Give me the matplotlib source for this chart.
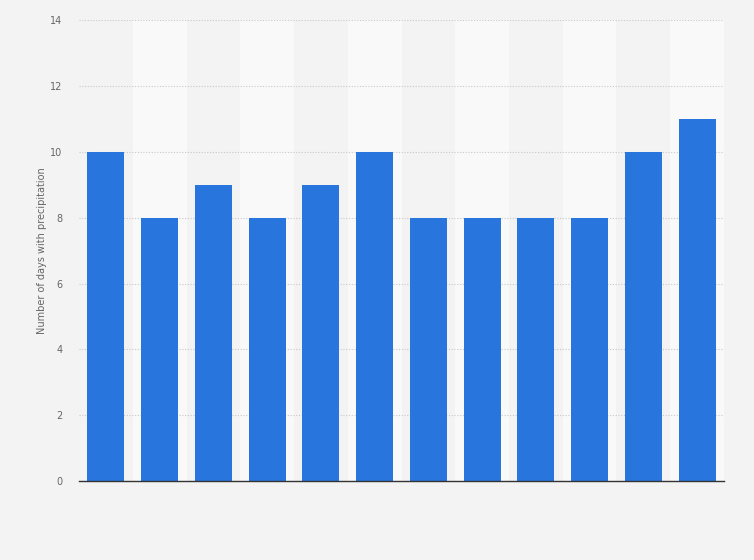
import matplotlib
matplotlib.use('Agg')
import matplotlib.pyplot as plt

months = ['Jan', 'Feb', 'Mar', 'Apr', 'May', 'Jun', 'Jul', 'Aug', 'Sep', 'Oct', 'Nov', 'Dec']
days = [10, 8, 9, 8, 9, 10, 8, 8, 8, 8, 10, 11]
yticks = [0, 2, 4, 6, 8, 10, 12, 14]

bg = '#f3f3f3'
fig = plt.figure(figsize=(7.54, 5.6), dpi=100, facecolor=bg)
ax = fig.add_axes([0.1048, 0.141, 0.8554, 0.823], facecolor=bg)

x = list(range(len(months)))
for i in x:
    if i % 2 == 1:
        ax.axvspan(i - 0.5, i + 0.5, color='#f9f9f9', zorder=0, lw=0)

ax.bar(x, days, width=0.69, color='#2876dd', zorder=3)

ax.set_xlim(-0.5, len(months) - 0.5)
ax.set_ylim(0, 14)
ax.set_yticks(yticks)
ax.set_yticklabels([str(v) for v in yticks], fontsize=7, color='#666666')
ax.set_xticks([])
ax.yaxis.grid(True, linestyle=(0, (1, 1.5)), color='#c8c8c8', lw=0.8, zorder=1)
ax.tick_params(axis='y', length=0, pad=12)
for s in ['top', 'right', 'left']:
    ax.spines[s].set_visible(False)
ax.spines['bottom'].set_color('#333333')
ax.spines['bottom'].set_linewidth(1.0)
ax.spines['bottom'].set_zorder(4)
ax.set_ylabel('Number of days with precipitation', fontsize=7, color='#666666')
ax.yaxis.set_label_coords(-0.05, 0.5)

fig.savefig('out.png', dpi=100, facecolor=bg)
